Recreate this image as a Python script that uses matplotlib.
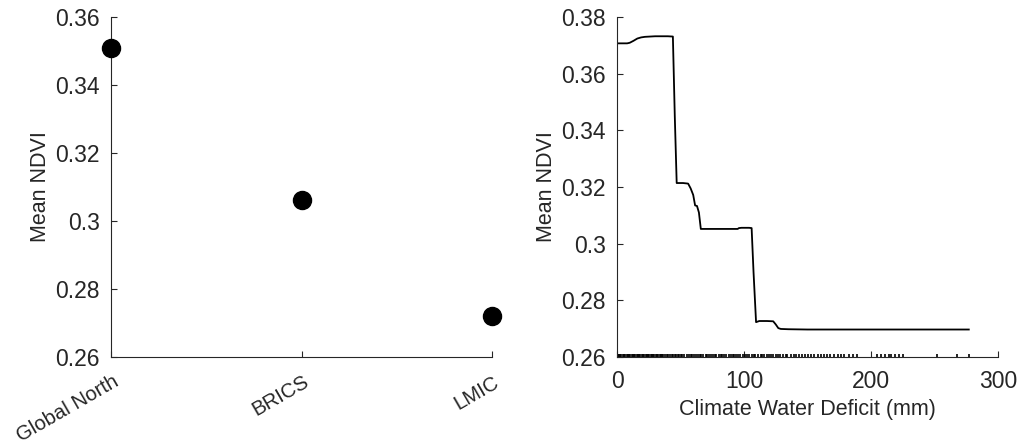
import matplotlib
matplotlib.use("Agg")
import matplotlib.pyplot as plt
from matplotlib.transforms import ScaledTranslation

plt.rcParams['font.family'] = ['Liberation Sans', 'DejaVu Sans']

# Left panel data
groups = ["Global North", "BRICS", "LMIC"]
mean_ndvi = [0.3509, 0.3062, 0.2722]

# Right panel: partial dependence of NDVI on climate water deficit
cwd = [0, 8, 10, 13, 16, 19, 22, 30, 40, 44, 45.5, 47, 52, 56, 58, 60, 61.5, 63,
       64.5, 66, 75, 85, 95, 96, 98, 104, 106, 107.5, 109.5, 112, 118, 123, 125,
       127, 129, 135, 150, 180, 220, 250, 277]
ndvi_pd = [0.3707, 0.3707, 0.3709, 0.3716, 0.3724, 0.3728, 0.3730, 0.3732,
           0.3732, 0.3731, 0.3450, 0.3214, 0.3214, 0.3212, 0.3195, 0.3172,
           0.3135, 0.3133, 0.3110, 0.3052, 0.3052, 0.3052, 0.3052, 0.3055,
           0.3056, 0.3056, 0.3055, 0.2900, 0.2723, 0.2727, 0.2727, 0.2726,
           0.2715, 0.2702, 0.2699, 0.2698, 0.2697, 0.2697, 0.2697, 0.2697, 0.2697]

# Rug of observed climate water deficit values (mm)
rug_x = [0.5, 1.5, 2.5, 3.5, 4.5, 5.5, 6.5, 7.5, 8.5, 9.5, 10.5, 11.5, 12.5,
         13.5, 14.5, 15.5, 16.5, 17.5, 18.5, 19.5, 20.5, 21.5, 22.5, 23.5,
         24.5, 25.5, 26.5, 27.5, 28.5, 29.5, 30.5, 31.5, 32.5, 33.5, 34.5,
         35.5, 36.5, 38, 39, 40.5, 41.5, 43, 44, 45.5, 46.5, 48, 49, 50.5,
         51.5, 53, 55, 56.5, 58, 59, 60.5, 62, 63.5, 65, 66, 68, 70, 71, 72.5,
         74, 75.5, 77, 78, 80, 81.5, 83, 84, 85.5, 88, 89.5, 91, 92, 94, 95.5,
         97, 99, 101, 102.5, 104, 106, 108, 109, 111, 113, 114.5, 116, 118,
         120, 121, 123, 125, 126.5, 128, 131, 133, 134, 137, 139, 141, 143,
         146, 148, 150, 153, 155, 158, 161, 163, 165, 168, 171, 174, 176, 179,
         183, 186, 189, 205, 208, 211, 214, 216, 219, 222, 225, 252, 268, 277]

fig = plt.figure(figsize=(10.23, 4.48), dpi=100)
W, H = 1023, 448
axL = fig.add_axes([111 / W, (H - 357) / H, 381 / W, 340 / H])
axR = fig.add_axes([617 / W, (H - 357) / H, 381 / W, 340 / H])

axis_col = (0.15, 0.15, 0.15)
tick_fs = 16.5
ylabel_fs = 15.5
xlabel_fs = 15.5

for ax in (axL, axR):
    for s in ("top", "right"):
        ax.spines[s].set_visible(False)
    for s in ("left", "bottom"):
        ax.spines[s].set_color(axis_col)
        ax.spines[s].set_linewidth(0.8)
    ax.tick_params(direction="in", length=4, width=0.8, color=axis_col,
                   labelsize=tick_fs, labelcolor=axis_col)
    ax.tick_params(axis="y", pad=8)
    ax.tick_params(axis="x", pad=9)
    ax.set_ylabel("Mean NDVI", fontsize=ylabel_fs, color=axis_col)

# Left panel
xpos = list(range(len(groups)))
axL.plot(xpos, mean_ndvi, linestyle="none", marker="o", markersize=13,
         color="black", clip_on=False, zorder=3)
axL.set_xlim(0, len(groups) - 1)
axL.set_ylim(0.26, 0.36)
axL.set_yticks([0.26, 0.28, 0.30, 0.32, 0.34, 0.36])
axL.set_yticklabels(["0.26", "0.28", "0.3", "0.32", "0.34", "0.36"])
axL.set_xticks(xpos)
axL.set_xticklabels(groups, rotation=30, ha="right", va="center",
                    rotation_mode="anchor", fontsize=14.7)
axL.tick_params(axis="x", pad=17)
shift = ScaledTranslation(6 / 100, 0, fig.dpi_scale_trans)
for lab in axL.get_xticklabels():
    lab.set_transform(lab.get_transform() + shift)
axL.yaxis.labelpad = 3

# Right panel
axR.plot(cwd, ndvi_pd, color="black", linewidth=1.3)
axR.vlines(rug_x, 0.26, 0.2609, color="black", linewidth=1.2)
axR.set_xlim(0, 300)
axR.set_ylim(0.26, 0.38)
axR.set_xticks([0, 100, 200, 300])
axR.set_yticks([0.26, 0.28, 0.30, 0.32, 0.34, 0.36, 0.38])
axR.set_yticklabels(["0.26", "0.28", "0.3", "0.32", "0.34", "0.36", "0.38"])
axR.set_xlabel("Climate Water Deficit (mm)", fontsize=xlabel_fs, color=axis_col,
               labelpad=5)
axR.yaxis.labelpad = 3

fig.savefig("out.png", dpi=100)
